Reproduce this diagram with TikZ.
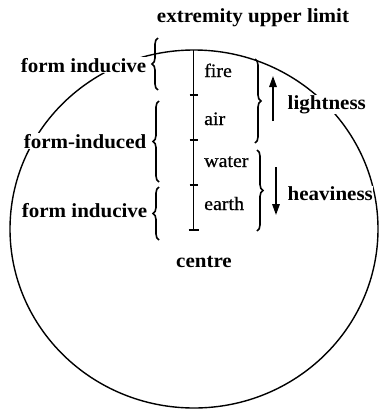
\documentclass[tikz,border=0pt]{standalone}
\usepackage{fontspec}
\setmainfont{Liberation Serif}[FakeStretch=1.05]
\newfontfamily\elemfont{Liberation Serif}[FakeStretch=1.05,FakeBold=0.6]
\usetikzlibrary{decorations.pathreplacing,arrows.meta}
\begin{document}
\begin{tikzpicture}[x=1pt,y=-1pt,
  lab/.style={font=\bfseries\fontsize{20}{24}\selectfont, inner sep=0.5pt, fill=white},
  elem/.style={font=\elemfont\fontsize{19}{22}\selectfont, inner sep=0pt, anchor=base west},
  bracestyle/.style={decorate, decoration={brace, amplitude=6pt}, line width=1.6pt},
  arr/.style={line width=1.6pt, -{Triangle[length=11pt,width=7.5pt]}},
  axisline/.style={line width=1.2pt},
  tick/.style={line width=1.1pt}
]
\useasboundingbox (0,0) rectangle (379,410);
\draw[line width=1.4pt] (194,229) ellipse [x radius=184pt, y radius=179pt];

% vertical scale
\coordinate (vtop) at (193.5,50);
\coordinate (t1) at (193.5,95);
\coordinate (t2) at (193.5,140);
\coordinate (t3) at (193.5,185);
\coordinate (vbot) at (193.5,230);
\draw[axisline] (vtop) -- (vbot);
\foreach \t in {t1,t2,t3} \draw[tick] ([xshift=-4pt]\t) -- ([xshift=4pt]\t);
\draw[tick] ([xshift=-5pt]vbot) -- ([xshift=5pt]vbot);

% element labels
\node[elem] (fire) at (204,77) {fire};
\node[elem] (air) at (204,125) {air};
\node[elem] (water) at (204,167) {water};
\node[elem] (earth) at (204,210) {earth};

% left braces
\coordinate (l1b) at (158,90);  \coordinate (l1t) at (158,38);
\coordinate (l2b) at (159,182); \coordinate (l2t) at (159,101);
\coordinate (l3b) at (159,240); \coordinate (l3t) at (159,187);
\draw[bracestyle] (l1b) -- (l1t);
\draw[bracestyle] (l2b) -- (l2t);
\draw[bracestyle] (l3b) -- (l3t);

% right braces
\coordinate (r1t) at (255,59);  \coordinate (r1b) at (255,143);
\coordinate (r2t) at (257,150); \coordinate (r2b) at (257,231);
\draw[bracestyle] (r1t) -- (r1b);
\draw[bracestyle] (r2t) -- (r2b);

% arrows
\coordinate (ua1) at (273,121); \coordinate (ua2) at (273,76);
\coordinate (da1) at (276,167); \coordinate (da2) at (276,215);
\draw[arr] (ua1) -- (ua2);
\draw[arr] (da1) -- (da2);

% labels
\node[lab, anchor=base] (ext) at (253,22) {extremity upper limit};
\node[lab, anchor=base east] (fi1) at (147,72) {form inducive};
\node[lab, anchor=base east] (fid) at (147,148) {form-induced};
\node[lab, anchor=base east] (fi2) at (148,217) {form inducive};
\node[lab, anchor=base west] (light) at (287,109) {lightness};
\node[lab, anchor=base west] (heavy) at (287,200) {heaviness};
\node[lab, anchor=base] (centre) at (204,267) {centre};
\end{tikzpicture}
\end{document}
